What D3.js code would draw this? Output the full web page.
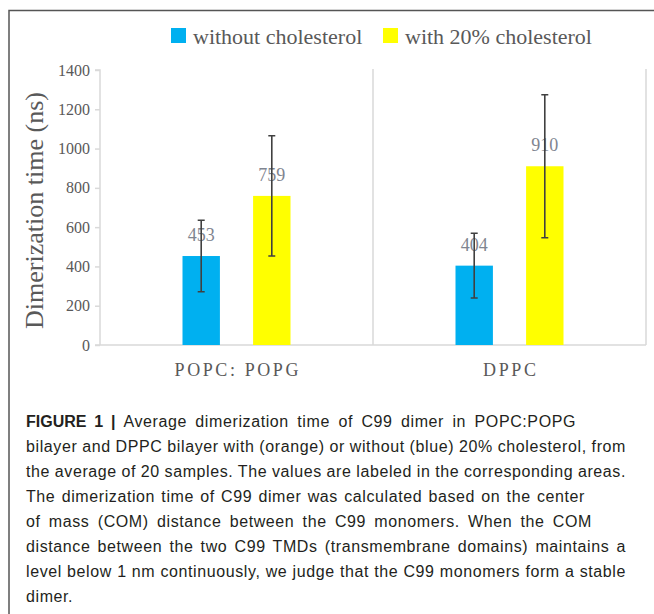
<!DOCTYPE html>
<html>
<head>
<meta charset="utf-8">
<script src="https://cdn.jsdelivr.net/npm/d3@7"></script>
<style>
  html, body { margin: 0; padding: 0; background: #fff; }
  svg { display: block; }
</style>
</head>
<body>
<svg id="fig" width="654" height="614"></svg>
<script>
// Bilayer systems on the x axis
const categories = ["POPC: POPG", "DPPC"];
// Series (legend order)
const seriesNames = ["without cholesterol", "with 20% cholesterol"];
const seriesColors = ["#00B0F0", "#FFFF00"];
// Mean dimerization time (ns) per category
const withoutChol = [453, 404];
const withChol = [759, 910];
// Error bar half-widths (ns)
const withoutCholErr = [182, 165];
const withCholErr = [306, 364];
// Y axis ticks
const yTicks = [0, 200, 400, 600, 800, 1000, 1200, 1400];
const yLabel = "Dimerization time (ns)";
// Caption lines
const captionBold = "FIGURE 1 | ";
const captionLines = [
  "Average dimerization time of C99 dimer in POPC:POPG",
  "bilayer and DPPC bilayer with (orange) or without (blue) 20% cholesterol, from",
  "the average of 20 samples. The values are labeled in the corresponding areas.",
  "The dimerization time of C99 dimer was calculated based on the center",
  "of mass (COM) distance between the C99 monomers. When the COM",
  "distance between the two C99 TMDs (transmembrane domains) maintains a",
  "level below 1 nm continuously, we judge that the C99 monomers form a stable",
  "dimer."
];
// Set widths of the caption lines (typeset column), null = natural width
const captionLineWidths = [550, 600, 600, 559, 566, 600, 600, null];

const seriesValues = [withoutChol, withChol];
const seriesErrors = [withoutCholErr, withCholErr];

const rows = [];
categories.forEach((c, i) => {
  seriesNames.forEach((s, j) => {
    rows.push({ cat: c, series: s, idx: j, value: seriesValues[j][i], err: seriesErrors[j][i] });
  });
});

const SERIF = "'Liberation Serif', 'Times New Roman', serif";
const SANS = "'Liberation Sans', Arial, Helvetica, sans-serif";
const AXIS_GRAY = "#d9d9d9";
const TEXT_GRAY = "#595959";

const svg = d3.select("#fig");

// Frame around the figure (top and left edges visible)
svg.append("path")
  .attr("d", "M654,10.5 H9 V614")
  .attr("fill", "none")
  .attr("stroke", "#555")
  .attr("stroke-width", 1.5);

const plot = { left: 100, right: 646, top: 70, bottom: 345 };

const x0 = d3.scaleBand().domain(categories).range([plot.left, plot.right]).padding(0);
const bw = x0.bandwidth();
const inner = 108;
const x1 = d3.scaleBand().domain(seriesNames)
  .range([bw / 2 - inner / 2, bw / 2 + inner / 2])
  .paddingInner(0.47).paddingOuter(0);
const y = d3.scaleLinear().domain([0, 1400]).range([plot.bottom, plot.top]);
const color = d3.scaleOrdinal().domain(seriesNames).range(seriesColors);

// Category separators (vertical gridlines at band edges)
svg.append("g")
  .selectAll("line")
  .data(categories)
  .join("line")
  .attr("x1", d => x0(d) + bw).attr("x2", d => x0(d) + bw)
  .attr("y1", plot.top - 1).attr("y2", plot.bottom)
  .attr("stroke", AXIS_GRAY).attr("stroke-width", 1.5);

// Y axis
const yAxis = svg.append("g")
  .attr("transform", `translate(${plot.left},0)`)
  .call(d3.axisLeft(y).tickValues(yTicks).tickSize(5).tickPadding(5).tickFormat(d3.format("d")));
yAxis.select(".domain").attr("stroke", AXIS_GRAY).attr("stroke-width", 1.5)
  .attr("d", `M-5,${plot.top}H0V${plot.bottom}`);
yAxis.selectAll(".tick line").attr("stroke", AXIS_GRAY).attr("stroke-width", 1.5);
yAxis.selectAll(".tick text")
  .attr("fill", TEXT_GRAY)
  .style("font-family", SERIF)
  .style("font-size", "16px");

// X axis baseline
svg.append("line")
  .attr("x1", plot.left - 5).attr("x2", plot.right)
  .attr("y1", plot.bottom).attr("y2", plot.bottom)
  .attr("stroke", AXIS_GRAY).attr("stroke-width", 1.5);

// Category labels
svg.append("g")
  .selectAll("text")
  .data(categories)
  .join("text")
  .attr("x", d => x0(d) + bw / 2 + 1.3)
  .attr("y", 376)
  .attr("text-anchor", "middle")
  .attr("fill", TEXT_GRAY)
  .style("font-family", SERIF)
  .style("font-size", "18px")
  .style("letter-spacing", "2.6px")
  .text(d => d);

// Y axis title
svg.append("text")
  .attr("transform", `translate(43,${(plot.top + plot.bottom) / 2 + 3}) rotate(-90)`)
  .attr("text-anchor", "middle")
  .attr("fill", TEXT_GRAY)
  .style("font-family", SERIF)
  .style("font-size", "26px")
  .text(yLabel);

// Bars
const groups = svg.append("g")
  .selectAll("g")
  .data(rows)
  .join("g")
  .attr("transform", d => `translate(${x0(d.cat) + x1(d.series)},0)`);

groups.append("rect")
  .attr("x", 0)
  .attr("width", x1.bandwidth())
  .attr("y", d => y(d.value))
  .attr("height", d => y(0) - y(d.value))
  .attr("fill", d => color(d.series));

// Value labels
groups.append("text")
  .attr("x", x1.bandwidth() / 2)
  .attr("y", d => y(d.value) - 15)
  .attr("text-anchor", "middle")
  .attr("fill", "#7f8590")
  .style("font-family", SERIF)
  .style("font-size", "18px")
  .text(d => d.value);

// Error bars
const cap = 3.5;
groups.each(function (d) {
  const g = d3.select(this);
  const cx = x1.bandwidth() / 2;
  const yt = y(d.value + d.err), yb = y(d.value - d.err);
  g.append("path")
    .attr("d", `M${cx},${yt}V${yb}M${cx - cap},${yt}H${cx + cap}M${cx - cap},${yb}H${cx + cap}`)
    .attr("fill", "none")
    .attr("stroke", "#404040")
    .attr("stroke-width", 1.6);
});

// Legend
const legendX = [171, 383];
const legend = svg.append("g")
  .selectAll("g")
  .data(seriesNames)
  .join("g")
  .attr("transform", (d, i) => `translate(${legendX[i]},28)`);
legend.append("rect")
  .attr("width", 15).attr("height", 15)
  .attr("fill", d => color(d));
legend.append("text")
  .attr("x", 22).attr("y", 15.5)
  .attr("fill", TEXT_GRAY)
  .style("font-family", SERIF)
  .style("font-size", "22px")
  .text(d => d);

// Caption, justified by adjusting the word spacing of each line
const capG = svg.append("g")
  .style("font-family", SANS)
  .style("font-size", "16px")
  .attr("fill", "#231f20");
captionLines.forEach((line, i) => {
  const t = capG.append("text").attr("x", 26).attr("y", 427 + i * 25);
  if (i === 0) {
    t.append("tspan").style("font-weight", "bold").text(captionBold);
  }
  t.append("tspan").style("letter-spacing", "0.6px").text(line);
  const target = captionLineWidths[i];
  if (target) {
    const natural = t.node().getComputedTextLength();
    const full = (i === 0 ? captionBold : "") + line;
    const gaps = (full.trim().match(/ /g) || []).length;
    if (gaps > 0) t.style("word-spacing", ((target - natural) / gaps) + "px");
  }
});
</script>
</body>
</html>
